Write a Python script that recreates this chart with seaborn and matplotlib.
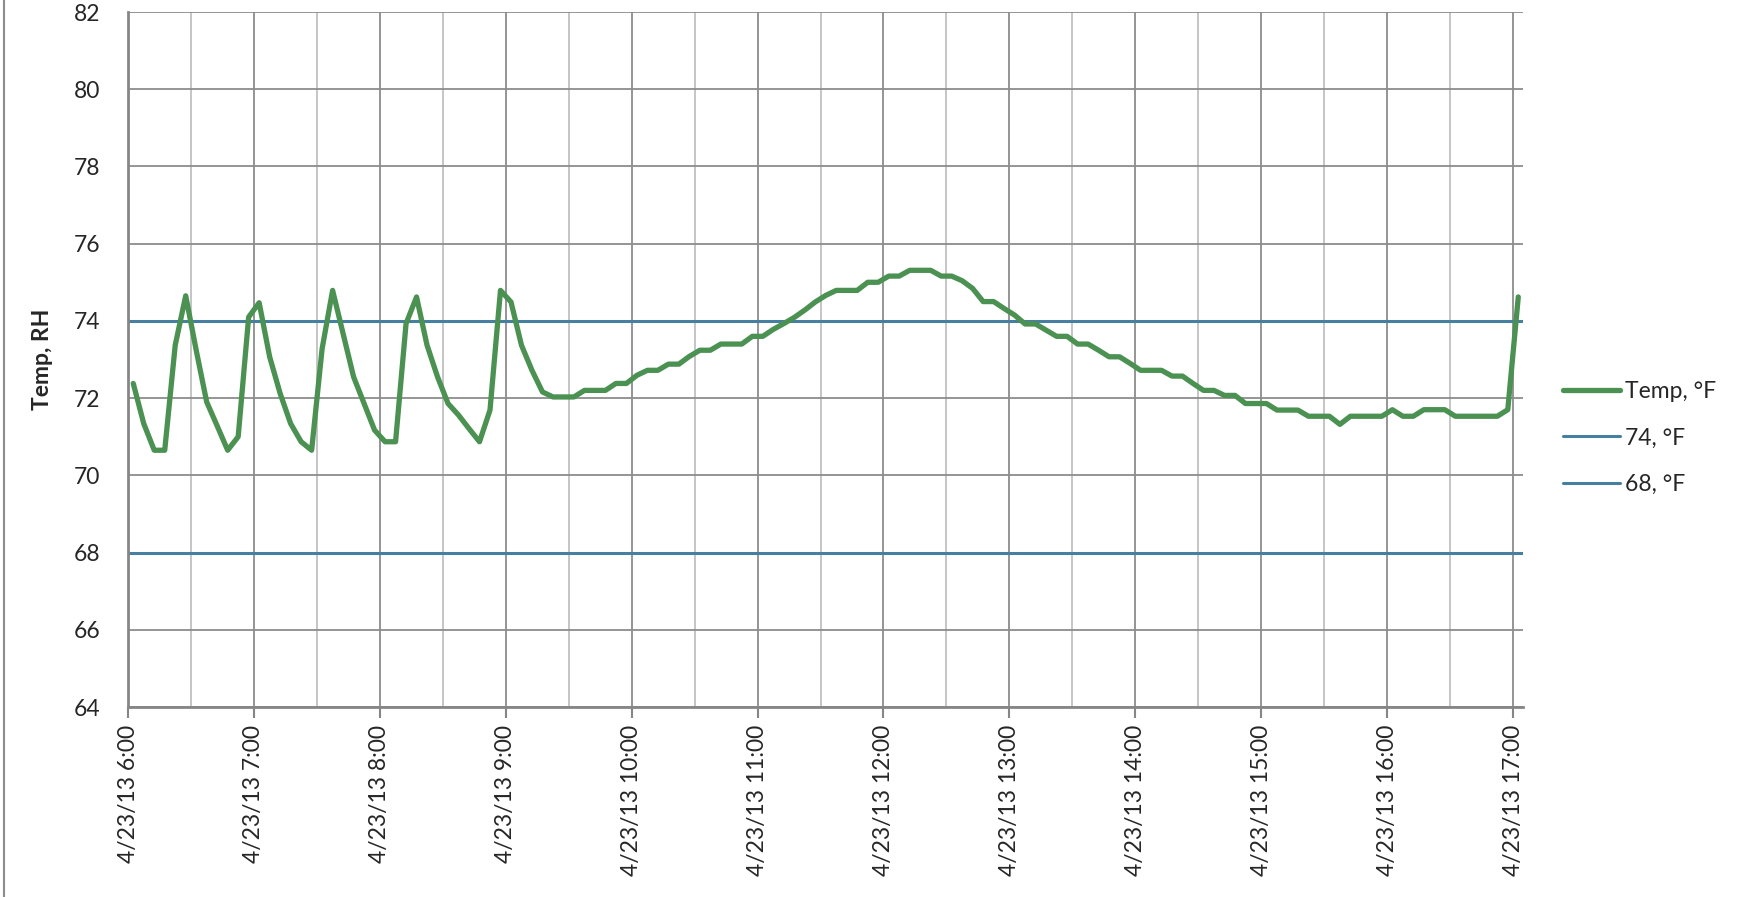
import numpy as np
import pandas as pd
import seaborn as sns
import matplotlib
matplotlib.use('Agg')
import matplotlib.pyplot as plt
import matplotlib.dates as mdates
from matplotlib.ticker import FuncFormatter

# readings every 5 minutes, first one at 6:02:30
temp = [72.38, 71.34, 70.65, 70.65, 73.37, 74.65, 73.24, 71.90, 71.28, 70.65,
        71.00, 74.10, 74.47, 73.07, 72.12, 71.34, 70.87, 70.65, 73.28, 74.79,
        73.67, 72.55, 71.86, 71.17, 70.87, 70.87, 73.93, 74.62, 73.37, 72.55,
        71.86, 71.56, 71.21, 70.87, 71.69, 74.79, 74.49, 73.37, 72.72, 72.16,
        72.03, 72.03, 72.03, 72.20, 72.20, 72.20, 72.38, 72.38, 72.59, 72.72,
        72.72, 72.88, 72.88, 73.08, 73.24, 73.24, 73.40, 73.40, 73.40, 73.60,
        73.60, 73.78, 73.93, 74.09, 74.28, 74.49, 74.66, 74.79, 74.79, 74.79,
        75.00, 75.00, 75.16, 75.16, 75.31, 75.31, 75.31, 75.16, 75.16, 75.04,
        74.84, 74.50, 74.50, 74.32, 74.15, 73.92, 73.92, 73.76, 73.60, 73.60,
        73.40, 73.40, 73.24, 73.07, 73.07, 72.90, 72.72, 72.72, 72.72, 72.57,
        72.57, 72.38, 72.20, 72.20, 72.07, 72.07, 71.86, 71.86, 71.86, 71.69,
        71.69, 71.69, 71.53, 71.53, 71.53, 71.32, 71.53, 71.53, 71.53, 71.53,
        71.70, 71.53, 71.53, 71.70, 71.70, 71.70, 71.53, 71.53, 71.53, 71.53,
        71.53, 71.70, 74.62]
upper_limit = 74
lower_limit = 68
y_ticks = list(range(64, 83, 2))

times = pd.date_range('2013-04-23 06:02:30', periods=len(temp), freq='5min')
df = pd.DataFrame({'time': times, 'temp': temp})

sns.set_style('white')
plt.rcParams['font.family'] = ['Lato', 'DejaVu Sans']

fig = plt.figure(figsize=(17.43, 8.97), dpi=100)
ax = fig.add_axes([128 / 1743, 1 - 707 / 897, 1395 / 1743, 695 / 897])

sns.lineplot(data=df, x='time', y='temp', ax=ax, color='#4A9152', lw=3.8,
             label='Temp, °F', zorder=3)
ax.axhline(upper_limit, color='#467F9F', lw=2.2, label='74, °F', zorder=2)
ax.axhline(lower_limit, color='#467F9F', lw=2.2, label='68, °F', zorder=2)

ax.set_ylim(64, 82)
ax.set_yticks(y_ticks)
ax.set_xlim(pd.Timestamp('2013-04-23 06:00'), pd.Timestamp('2013-04-23 17:04:45'))

ax.xaxis.set_major_locator(mdates.HourLocator())
ax.xaxis.set_minor_locator(mdates.MinuteLocator(byminute=30))


def fmt(v, pos):
    d = mdates.num2date(v)
    return '%d/%d/%s %d:%02d' % (d.month, d.day, d.strftime('%y'), d.hour, d.minute)


ax.xaxis.set_major_formatter(FuncFormatter(fmt))

ax.set_axisbelow(True)
ax.grid(which='major', color='#8C8C8C', lw=1.3)
ax.grid(which='minor', axis='x', color='#C0C0C0', lw=1.3)

for s in ['top', 'right']:
    ax.spines[s].set_visible(False)
for s in ['left', 'bottom']:
    ax.spines[s].set_color('#868686')
    ax.spines[s].set_linewidth(2)

ax.tick_params(axis='x', which='major', rotation=90, labelsize=16.5, length=8,
               width=1.5, color='#868686', pad=5, bottom=True)
ax.tick_params(axis='x', which='minor', length=0)
ax.tick_params(axis='y', labelsize=16.5, length=0, pad=20)
for lbl in ax.get_xticklabels():
    lbl.set_verticalalignment('top')

ax.set_xlabel('')
ax.set_ylabel('Temp, RH', fontsize=16.5, fontweight='bold')
ax.yaxis.set_label_coords(-0.054, 0.5)

ax.legend(loc='center left', bbox_to_anchor=(1563 / 1743, 1 - 438 / 897),
          bbox_transform=fig.transFigure, frameon=False, fontsize=16.5,
          borderaxespad=0, borderpad=0, handlelength=2.5, handletextpad=0.2,
          labelspacing=1.1)

# chart border on the left
fig.add_artist(plt.Line2D([4 / 1743, 4 / 1743], [0, 1], transform=fig.transFigure,
                          color='#8C8C8C', lw=1.5))

fig.savefig('out.png', dpi=100)
